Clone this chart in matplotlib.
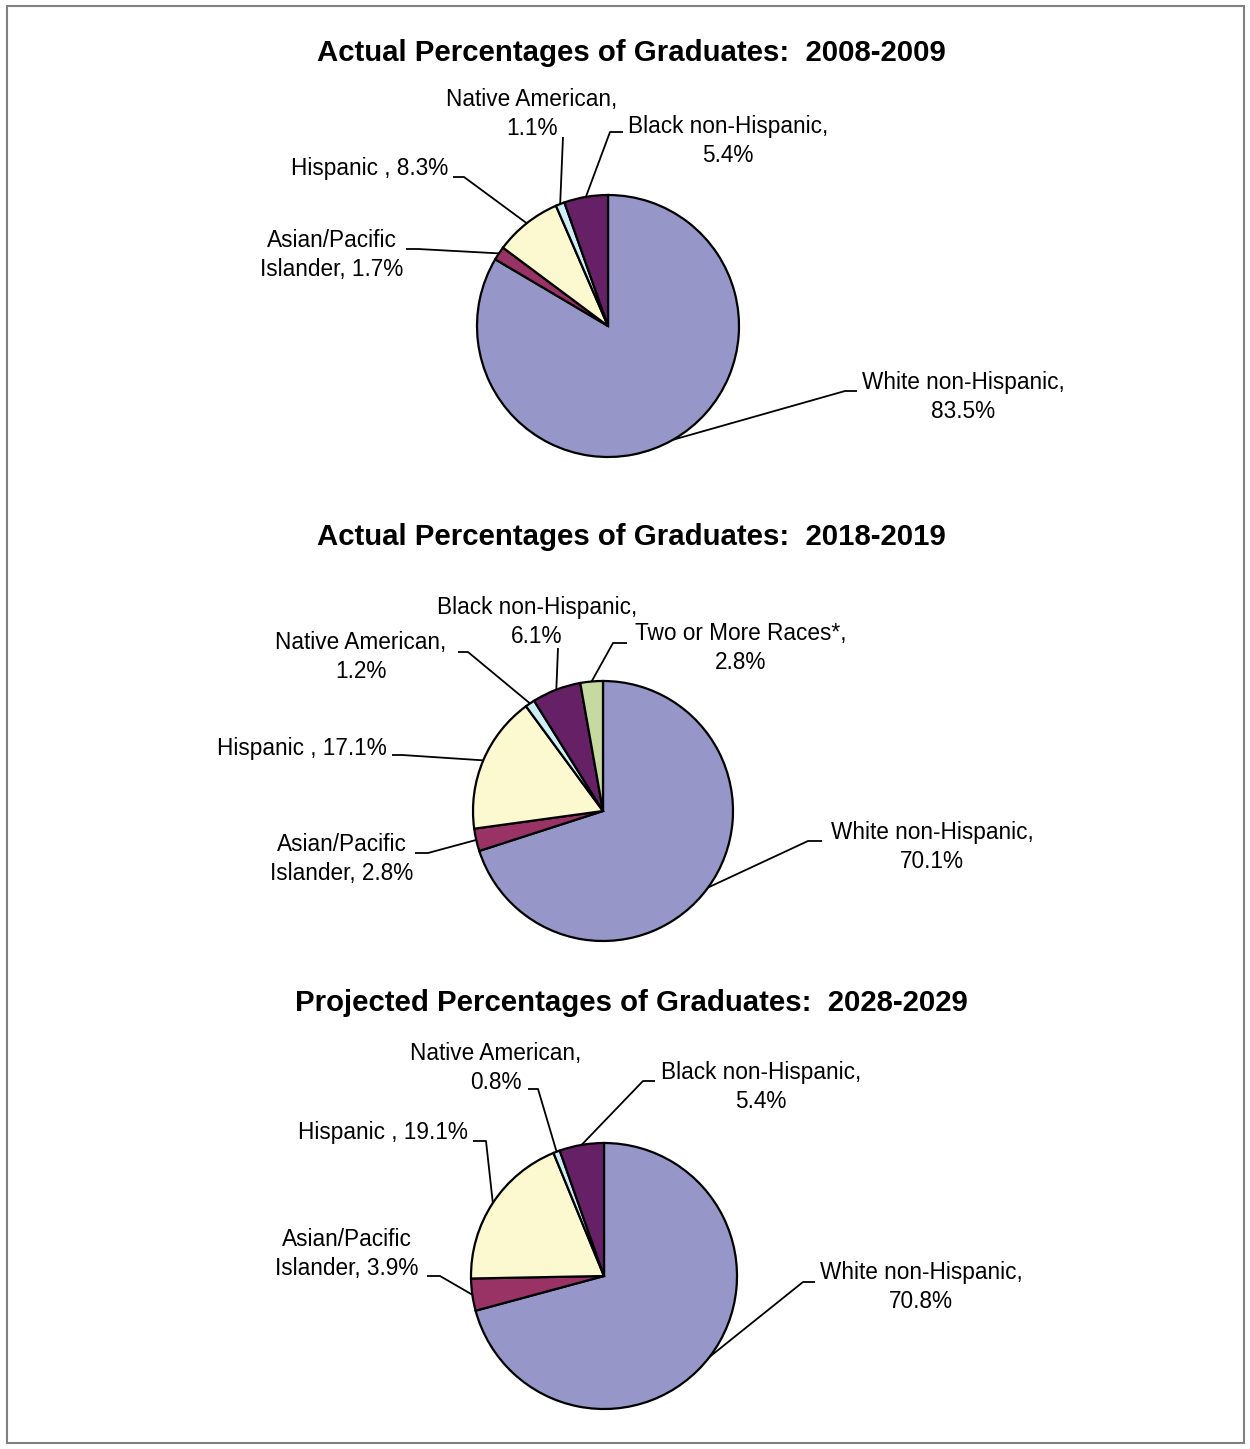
import matplotlib
matplotlib.use("Agg")
import matplotlib.pyplot as plt
from matplotlib.patches import Rectangle
import numpy as np

plt.rcParams['font.family'] = ['Liberation Sans', 'DejaVu Sans']

W, H = 1250, 1449

# ===== DATA =====
titles = [
    "Actual Percentages of Graduates:  2008-2009",
    "Actual Percentages of Graduates:  2018-2019",
    "Projected Percentages of Graduates:  2028-2029",
]

cats_0809 = ["White non-Hispanic", "Asian/Pacific Islander", "Hispanic ",
             "Native American", "Black non-Hispanic"]
vals_0809 = [83.5, 1.7, 8.3, 1.1, 5.4]

cats_1819 = ["White non-Hispanic", "Asian/Pacific Islander", "Hispanic ",
             "Native American", "Black non-Hispanic", "Two or More Races*"]
vals_1819 = [70.1, 2.8, 17.1, 1.2, 6.1, 2.8]

cats_2829 = ["White non-Hispanic", "Asian/Pacific Islander", "Hispanic ",
             "Native American", "Black non-Hispanic"]
vals_2829 = [70.8, 3.9, 19.1, 0.8, 5.4]

colors = {
    "White non-Hispanic": "#9696c8",
    "Asian/Pacific Islander": "#993366",
    "Hispanic ": "#fcf8cf",
    "Native American": "#cdeef6",
    "Black non-Hispanic": "#662166",
    "Two or More Races*": "#c6d9a0",
}

# label text with line breaks as in the original
def label_text(cat, v):
    s = f"{v:.1f}%"
    if cat.startswith("Asian"):
        return f"Asian/Pacific\nIslander, {s}"
    if cat.startswith("Hispanic"):
        return f"Hispanic , {s}"
    return f"{cat},\n{s}"

# ===== LAYOUT (pixel positions, y from top) =====
# pie centre, radius, title y
pies = [
    (cats_0809, vals_0809, (608, 326), 131, 53),
    (cats_1819, vals_1819, (603, 811), 130, 537),
    (cats_2829, vals_2829, (604, 1276), 133, 1003),
]

# per pie: label centre (x, y, ha) and leader knee points
label_layout = [
    {
        "White non-Hispanic": ((963, 397, "center"), [(857, 391), (845, 391)]),
        "Asian/Pacific Islander": ((332, 255, "center"), [(406, 249), (418, 249)]),
        "Hispanic ": ((448, 168, "right"), [(453, 177), (464, 177)]),
        "Native American": ((532, 114, "center"), [(563, 137)]),
        "Black non-Hispanic": ((728, 141, "center"), [(623, 132), (610, 132)]),
    },
    {
        "White non-Hispanic": ((932, 847, "center"), [(822, 841), (808, 841)]),
        "Asian/Pacific Islander": ((342, 859, "center"), [(415, 853), (428, 853)]),
        "Hispanic ": ((387, 748, "right"), [(392, 755), (402, 755)]),
        "Native American": ((361, 657, "center"), [(458, 652), (468, 652)]),
        "Black non-Hispanic": ((537, 622, "center"), [(558, 648)]),
        "Two or More Races*": ((741, 648, "center"), [(627, 643), (613, 643)]),
    },
    {
        "White non-Hispanic": ((921, 1287, "center"), [(815, 1282), (803, 1282)]),
        "Asian/Pacific Islander": ((347, 1254, "center"), [(427, 1276), (440, 1276)]),
        "Hispanic ": ((468, 1133, "right"), [(473, 1141), (486, 1141)]),
        "Native American": ((496, 1068, "center"), [(528, 1089), (538, 1089)]),
        "Black non-Hispanic": ((761, 1087, "center"), [(655, 1081), (643, 1081)]),
    },
]

fig = plt.figure(figsize=(W / 100, H / 100), dpi=100)
ax = fig.add_axes([0, 0, 1, 1])

for title, (cats, vals, (cx, cy), r, ty), lay in zip(titles, pies, label_layout):
    wedges, _ = ax.pie(vals, colors=[colors[c] for c in cats], startangle=90,
                       counterclock=False, center=(cx, H - cy), radius=r,
                       wedgeprops=dict(edgecolor="black", linewidth=1.6))
    ax.text(631, H - ty, title, ha="center", va="center",
            fontsize=21.2, fontweight="bold")
    for w, cat, v in zip(wedges, cats, vals):
        (lx, ly, ha), knees = lay[cat]
        ax.text(lx, H - ly, label_text(cat, v), ha=ha, va="center",
                multialignment="center", fontsize=16.3, linespacing=1.38)
        # leader ends on the rim at the middle of the slice
        mid = np.deg2rad((w.theta1 + w.theta2) / 2)
        ex = cx + r * np.cos(mid)
        ey = (H - cy) + r * np.sin(mid)
        xs = [p[0] for p in knees] + [ex]
        ys = [H - p[1] for p in knees] + [ey]
        ax.plot(xs, ys, color="black", linewidth=1.3, solid_capstyle="butt")

ax.set_xlim(0, W)
ax.set_ylim(0, H)
ax.set_aspect("equal")
ax.axis("off")

# outer chart border
ax.add_patch(Rectangle((7, H - 1443), 1237, 1437, fill=False,
                       edgecolor="#808080", linewidth=1.5))

fig.savefig("out.png", dpi=100)
